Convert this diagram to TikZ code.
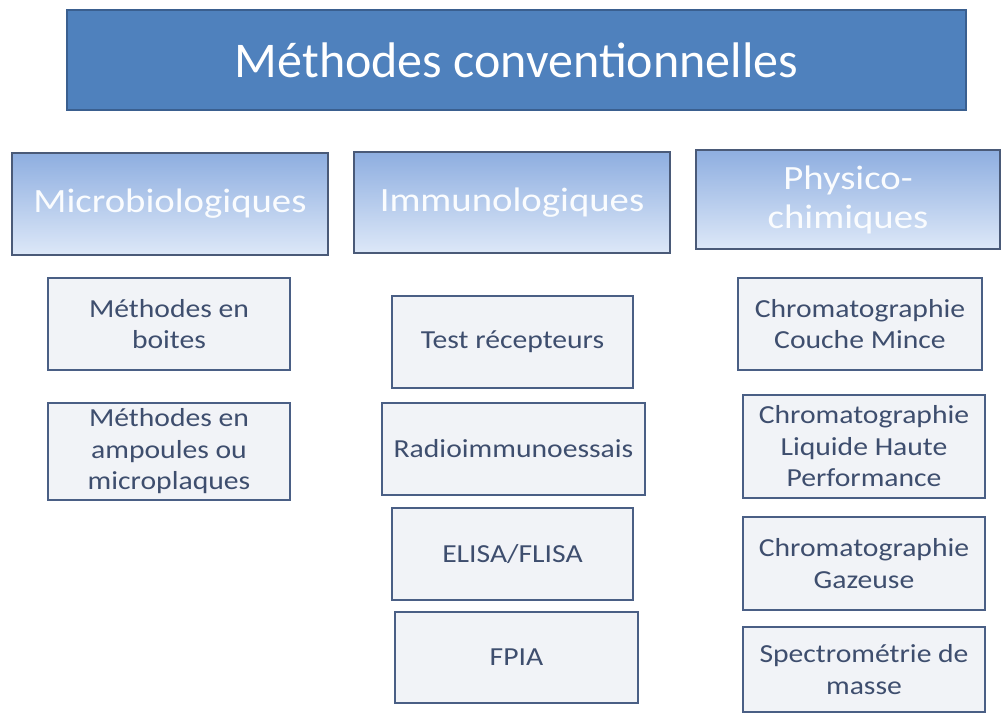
\documentclass[tikz,border=0pt]{standalone}
\usepackage{fontspec}
\setmainfont{Carlito}
\newfontfamily\largecarlito[FakeStretch=1.14]{Carlito}
\definecolor{titrebleu}{HTML}{4F81BD}
\definecolor{titrebord}{HTML}{3A5F8F}
\definecolor{catbord}{HTML}{4A5A78}
\definecolor{cathaut}{HTML}{8EAEE0}
\definecolor{catbas}{HTML}{DDE8F8}
\definecolor{boitebord}{HTML}{4A5F85}
\definecolor{boitefond}{HTML}{F1F3F7}
\definecolor{boitetexte}{HTML}{3E4E6E}

\begin{document}
\begin{tikzpicture}[x=1pt,y=-1pt,
    titre/.style={draw=titrebord, line width=1.2pt, fill=titrebleu, text=white,
        font=\fontsize{50}{58}\selectfont, inner sep=0pt},
    categorie/.style={draw=catbord, line width=2.8pt, top color=cathaut, bottom color=catbas,
        text=white!96!cathaut, align=center, inner sep=0pt,
        font=\largecarlito\fontsize{34}{39}\selectfont},
    methode/.style={draw=boitebord, line width=2.5pt, fill=boitefond, text=boitetexte,
        align=center, inner sep=0pt, font=\largecarlito\fontsize{26}{31.5}\selectfont}]

    \useasboundingbox (0,0) rectangle (1002,716);

    % Titre
    \node[titre, minimum width=899pt, minimum height=100pt] (titre) at (516.5,60) {Méthodes conventionnelles};

    % Les trois familles
    \node[categorie, minimum width=316pt, minimum height=102pt] (micro) at (170,204) {Microbiologiques};
    \node[categorie, minimum width=316pt, minimum height=101pt] (immuno) at (512,202.5) {Immunologiques};
    \node[categorie, minimum width=304pt, minimum height=99pt] (physico) at (848,199.5) {Physico-\\chimiques};

    % Microbiologiques
    \node[methode, minimum width=242pt, minimum height=92pt] (boites) at (169,324) {Méthodes en\\boites};
    \node[methode, minimum width=242pt, minimum height=97pt] (ampoules) at (169,451.5) {Méthodes en\\ampoules ou\\microplaques};

    % Immunologiques
    \node[methode, minimum width=241pt, minimum height=92pt] (recepteurs) at (512.5,342) {Test récepteurs};
    \node[methode, minimum width=263pt, minimum height=92pt] (ria) at (513.5,449) {Radioimmunoessais};
    \node[methode, minimum width=241pt, minimum height=92pt] (elisa) at (512.5,554) {ELISA/FLISA};
    \node[methode, minimum width=243pt, minimum height=91pt] (fpia) at (516.5,657.5) {FPIA};

    % Physico-chimiques
    \node[methode, minimum width=244pt, minimum height=92pt] (ccm) at (860,324) {Chromatographie\\Couche Mince};
    \node[methode, minimum width=242pt, minimum height=103pt] (hplc) at (864,446.5) {Chromatographie\\Liquide Haute\\Performance};
    \node[methode, minimum width=242pt, minimum height=93pt] (cpg) at (864,563.5) {Chromatographie\\Gazeuse};
    \node[methode, minimum width=242pt, minimum height=85pt] (sm) at (864,669.5) {Spectrométrie de\\masse};
\end{tikzpicture}
\end{document}
